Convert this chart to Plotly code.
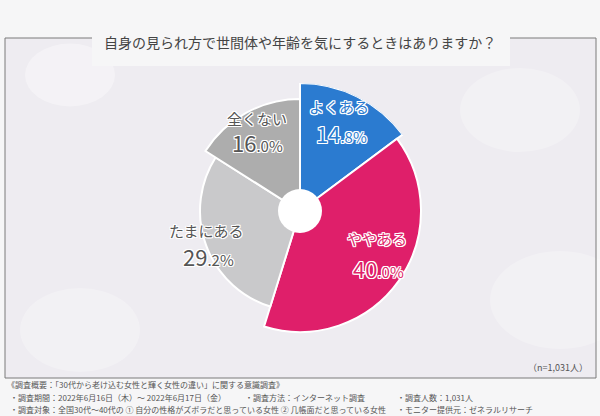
import plotly.graph_objects as go

# ---- data ----
categories = ["よくある", "ややある", "たまにある", "全くない"]
percents = [14.8, 40.0, 29.2, 16.0]
colors = ["#2b7bd0", "#df1f6a", "#c9c9cb", "#adadad"]
radii = [128, 121, 100, 112]          # visual radius of each wedge (variable-radius pie)
pct_labels = ["14.8%", "40.0%", "29.2%", "16.0%"]
title_text = "自身の見られ方で世間体や年齢を気にするときはありますか？"
n_text = "（n=1,031人）"
footer_lines = [
    [(5, "《調査概要：「30代から老け込む女性と輝く女性の違い」に関する意識調査》")],
    [(8, "・調査期間：2022年6月16日（木）～ 2022年6月17日（金）"),
     (243, "・調査方法：インターネット調査"),
     (395, "・調査人数：1,031人")],
    [(8, "・調査対象：全国30代～40代の ① 自分の性格がズボラだと思っている女性 ② 几帳面だと思っている女性"),
     (395, "・モニター提供元：ゼネラルリサーチ")],
]

W, H = 600, 416
CX, CY = 300, 211
RMAX = 128
HOLE = 22
FONT = "Noto Sans CJK JP"


def px(x):
    return x / W


def py(y):
    return 1 - y / H


# wedge angles from cumulative percentages
thetas, widths = [], []
cum = 0.0
for p in percents:
    w = p * 3.6
    thetas.append(cum * 3.6 + w / 2)
    widths.append(w)
    cum += p

fig = go.Figure()
fig.add_trace(go.Barpolar(
    r=radii, theta=thetas, width=widths,
    marker=dict(color=colors, line=dict(color="white", width=2)),
    hoverinfo="skip", showlegend=False,
))

cb = (H - CY)  # center from bottom in px
fig.update_layout(
    width=W, height=H,
    margin=dict(l=0, r=0, t=0, b=0),
    paper_bgcolor="#f6f6f7",
    plot_bgcolor="rgba(0,0,0,0)",
    bargap=0,
    polar=dict(
        domain=dict(x=[(CX - RMAX) / W, (CX + RMAX) / W],
                    y=[(cb - RMAX) / H, (cb + RMAX) / H]),
        bgcolor="rgba(0,0,0,0)",
        radialaxis=dict(visible=False, range=[0, RMAX]),
        angularaxis=dict(visible=False, rotation=90, direction="clockwise"),
        bargap=0,
    ),
)

shapes = []
# interior panel
shapes.append(dict(type="rect", xref="paper", yref="paper", layer="below",
                   x0=px(5), x1=px(596), y0=py(378), y1=py(38),
                   fillcolor="#eeecf1", line=dict(width=0)))
# soft light blobs in the background
for (bx, by, br, op) in [(70, 75, 45, 0.35), (520, 110, 60, 0.25), (560, 300, 70, 0.25), (80, 330, 60, 0.25)]:
    shapes.append(dict(type="circle", xref="paper", yref="paper", layer="below",
                       x0=px(bx - br), x1=px(bx + br), y0=py(by + br * 0.7), y1=py(by - br * 0.7),
                       fillcolor="rgba(255,255,255,%s)" % op, line=dict(width=0)))
# title box
shapes.append(dict(type="rect", xref="paper", yref="paper", layer="below",
                   x0=px(92), x1=px(510), y0=py(66), y1=py(28),
                   fillcolor="#f6f6f7", line=dict(width=0)))
lc = dict(color="#7a7a7a", width=1)
for (x0, y0, x1, y1) in [(5, 38, 92, 38), (510, 38, 596, 38), (5, 38, 5, 378),
                         (596, 38, 596, 378), (5, 378, 596, 378)]:
    shapes.append(dict(type="line", xref="paper", yref="paper", layer="below",
                       x0=px(x0), x1=px(x1), y0=py(y0), y1=py(y1), line=lc))
# hole
shapes.append(dict(type="circle", xref="paper", yref="paper", layer="above",
                   x0=px(CX - HOLE), x1=px(CX + HOLE), y0=py(CY + HOLE), y1=py(CY - HOLE),
                   fillcolor="white", line=dict(width=0)))
fig.update_layout(shapes=shapes)

annotations = []
annotations.append(dict(text=title_text, x=px(300), y=py(42), xref="paper", yref="paper",
                        showarrow=False, xanchor="center", yanchor="middle",
                        font=dict(family=FONT, size=14, color="#444444")))
annotations.append(dict(text=n_text, x=px(590), y=py(367), xref="paper", yref="paper",
                        showarrow=False, xanchor="right", yanchor="middle",
                        font=dict(family=FONT, size=9, color="#555555")))
row_y = [384, 397, 409]
for ry, row in zip(row_y, footer_lines):
    for (fx, t) in row:
        annotations.append(dict(text=t, x=px(fx), y=py(ry), xref="paper", yref="paper",
                                showarrow=False, xanchor="left", yanchor="middle",
                                font=dict(family=FONT, size=8, color="#555555")))

# slice labels
label_pos = [((339, 107), (342, 133)), ((377, 239), (378, 268)),
             ((207, 230), (208, 256)), ((257, 118), (257, 142))]
text_colors = [colors[0], colors[1], "#555555", "#555555"]
white_outline = ("1px 1px 0 #fff, -1px -1px 0 #fff, 1px -1px 0 #fff, -1px 1px 0 #fff, "
                 "0 1px 0 #fff, 0 -1px 0 #fff, 1px 0 0 #fff, -1px 0 0 #fff")
for cat, pl, (lp, pp), tc in zip(categories, pct_labels, label_pos, text_colors):
    annotations.append(dict(text=cat, x=px(lp[0]), y=py(lp[1]), xref="paper", yref="paper",
                            showarrow=False, xanchor="center", yanchor="middle",
                            font=dict(family=FONT, size=15, color=tc, shadow=white_outline)))
    whole, frac = pl.split(".")
    rich = whole + "<span style='font-size:15px'>." + frac + "</span>"
    annotations.append(dict(text=rich, x=px(pp[0]), y=py(pp[1]), xref="paper", yref="paper",
                            showarrow=False, xanchor="center", yanchor="middle",
                            font=dict(family=FONT, size=22, color=tc, shadow=white_outline)))
fig.update_layout(annotations=annotations)

fig.write_html("out.html", config={"displayModeBar": False},
               post_script="document.body.style.margin='0';document.body.style.overflow='hidden';")
